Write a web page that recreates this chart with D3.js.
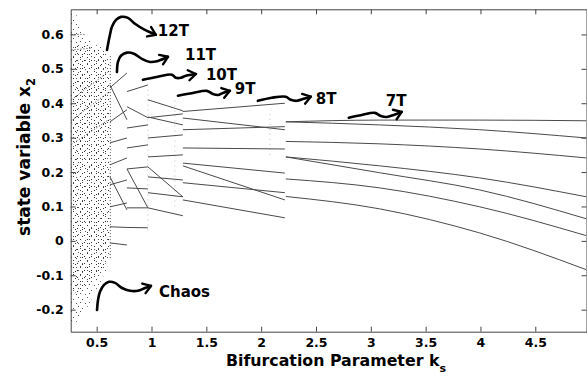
<!DOCTYPE html>
<html>
<head>
<meta charset="utf-8">
<script src="https://cdn.jsdelivr.net/npm/d3@7"></script>
<style>
body { margin: 0; background: #fff; }
text { font-family: "DejaVu Sans", sans-serif; font-weight: bold; fill: #000; }
</style>
</head>
<body>
<div id="chart"></div>
<script>
// axis ticks
var xTicks = [0.5, 1, 1.5, 2, 2.5, 3, 3.5, 4, 4.5];
var yTicks = [-0.2, -0.1, 0, 0.1, 0.2, 0.3, 0.4, 0.5, 0.6];

// periodic windows: k at segment ends, and x2 values of each branch
var k12 = [0.621, 0.776];
var b12 = [[0.445, 0.488], [0.453, 0.352], [0.346, 0.381], [0.285, 0.299], [0.221, 0.241],
           [0.186, 0.090], [0.163, 0.177], [0.099, 0.110], [0.041, 0.039], [-0.006, -0.012]];
var k11 = [0.776, 0.967];
var b11 = [[0.434, 0.453], [0.390, 0.358], [0.328, 0.337], [0.270, 0.279], [0.209, 0.215],
           [0.209, 0.096], [0.154, 0.151], [0.096, 0.096], [0.039, 0.038]];
var k10 = [0.967, 1.286];
var b10 = [[0.410, 0.378], [0.360, 0.337], [0.358, 0.369], [0.299, 0.308], [0.244, 0.250],
           [0.215, 0.128], [0.186, 0.177], [0.140, 0.128], [0.096, 0.073]];
var k9 = [1.286, 2.216];
var b9 = [[0.376, 0.400], [0.357, 0.323], [0.323, 0.332], [0.270, 0.267],
          [0.226, 0.197], [0.218, 0.119], [0.169, 0.140], [0.119, 0.067]];
var k7 = [2.225, 3.081, 3.993, 4.967];
var b7 = [[0.346, 0.351, 0.351, 0.349], [0.346, 0.337, 0.323, 0.299], [0.289, 0.282, 0.267, 0.241],
          [0.244, 0.218, 0.183, 0.128], [0.244, 0.198, 0.148, 0.064], [0.180, 0.154, 0.099, 0.015],
          [0.129, 0.093, 0.023, -0.084]];

// chaotic band envelope
var chaosK      = [0.263, 0.30, 0.35, 0.42, 0.49, 0.55, 0.60, 0.615];
var chaosTop    = [0.66, 0.665, 0.615, 0.59, 0.57, 0.56, 0.54, 0.52];
var chaosBottom = [-0.235, -0.237, -0.225, -0.19, -0.145, -0.11, -0.07, -0.05];
var denseTop    = [0.57, 0.57, 0.57, 0.565, 0.555, 0.55, 0.53, 0.51];
var denseBottom = [-0.14, -0.15, -0.15, -0.13, -0.10, -0.08, -0.05, -0.03];
var chaosStreaks = [[0.27, 0.41, 0.60, 0.49], [0.27, 0.35, 0.60, 0.43], [0.27, 0.555, 0.45, 0.56],
                    [0.27, 0.60, 0.40, 0.60], [0.27, 0.28, 0.60, 0.35]];

// transient dots at window edges
var transientK  = [0.625, 0.967, 1.213, 2.08];
var transientLo = [-0.05, 0.03, 0.10, 0.25];
var transientHi = [0.54, 0.45, 0.42, 0.38];

// annotations
var labels = ['12T', '11T', '10T', '9T', '8T', '7T', 'Chaos'];
var labelK = [1.058, 1.305, 1.496, 1.760, 2.498, 3.136, 1.068];
var labelX = [0.610, 0.541, 0.483, 0.442, 0.413, 0.407, -0.148];
var arrows = [
  [[0.594, 0.555], [0.621, 0.599], [0.639, 0.622], [0.676, 0.642], [0.721, 0.651], [0.785, 0.648], [0.849, 0.631], [0.940, 0.613], [1.040, 0.599]],
  [[0.685, 0.491], [0.694, 0.520], [0.721, 0.538], [0.776, 0.547], [0.840, 0.544], [0.913, 0.529], [0.986, 0.520], [1.059, 0.523], [1.150, 0.535]],
  [[0.922, 0.468], [1.059, 0.477], [1.186, 0.483], [1.222, 0.474], [1.268, 0.474], [1.314, 0.480], [1.405, 0.485]],
  [[1.241, 0.422], [1.378, 0.430], [1.505, 0.436], [1.560, 0.427], [1.606, 0.424], [1.651, 0.430], [1.715, 0.436]],
  [[1.970, 0.407], [2.097, 0.416], [2.225, 0.419], [2.270, 0.410], [2.325, 0.407], [2.389, 0.413], [2.452, 0.419]],
  [[2.799, 0.358], [2.918, 0.366], [3.036, 0.372], [3.091, 0.363], [3.145, 0.360], [3.209, 0.366], [3.282, 0.375]],
  [[0.503, -0.201], [0.512, -0.172], [0.530, -0.148], [0.567, -0.128], [0.612, -0.119], [0.667, -0.122], [0.731, -0.137], [0.804, -0.145], [0.876, -0.145], [0.940, -0.137], [0.995, -0.131]]
];

var width = 587, height = 376;
var margin = {top: 9.3, right: 0.5, bottom: 44.3, left: 70.7};

var svg = d3.select('#chart').append('svg')
  .attr('width', width)
  .attr('height', height);

var x = d3.scaleLinear().domain([0.263, 4.967]).range([margin.left, width - margin.right]);
var y = d3.scaleLinear().domain([-0.264, 0.673]).range([height - margin.bottom, margin.top]);

svg.append('clipPath').attr('id', 'plot')
  .append('rect')
  .attr('x', margin.left).attr('y', margin.top)
  .attr('width', x.range()[1] - margin.left)
  .attr('height', y.range()[0] - margin.top);

// dot textures for the chaotic band
var defs = svg.append('defs');
function dotPattern(id, size, dots, colour) {
  var p = defs.append('pattern').attr('id', id)
    .attr('patternUnits', 'userSpaceOnUse')
    .attr('width', size).attr('height', size);
  dots.forEach(function (d) {
    p.append('rect').attr('x', d[0]).attr('y', d[1]).attr('width', 1).attr('height', 1).attr('fill', colour);
  });
}
dotPattern('dotsA', 9, [[1, 2], [6, 0], [4, 6], [8, 5]], '#555');
dotPattern('dotsB', 7, [[3, 1], [0, 4], [5, 5]], '#333');

var g = svg.append('g').attr('clip-path', 'url(#plot)');

var outer = chaosK.map(function (k, i) { return [k, chaosTop[i], chaosBottom[i]]; });
var inner = chaosK.map(function (k, i) { return [k, denseTop[i], denseBottom[i]]; });
var area = d3.area()
  .x(function (d) { return x(d[0]); })
  .y0(function (d) { return y(d[2]); })
  .y1(function (d) { return y(d[1]); })
  .curve(d3.curveMonotoneX);
g.append('path').attr('d', area(outer)).attr('fill', 'url(#dotsA)');
g.append('path').attr('d', area(inner)).attr('fill', 'url(#dotsB)');

g.selectAll('.streak').data(chaosStreaks).enter().append('line')
  .attr('class', 'streak')
  .attr('x1', function (d) { return x(d[0]); })
  .attr('y1', function (d) { return y(d[1]); })
  .attr('x2', function (d) { return x(d[2]); })
  .attr('y2', function (d) { return y(d[3]); })
  .attr('stroke', '#333')
  .attr('stroke-width', 1)
  .attr('stroke-dasharray', '1,2');

g.selectAll('.transient').data(transientK).enter().append('line')
  .attr('class', 'transient')
  .attr('x1', function (d) { return x(d); })
  .attr('x2', function (d) { return x(d); })
  .attr('y1', function (d, i) { return y(transientLo[i]); })
  .attr('y2', function (d, i) { return y(transientHi[i]); })
  .attr('stroke', function (d, i) { return i == 0 ? '#666' : '#bbb'; })
  .attr('stroke-width', 1)
  .attr('stroke-dasharray', function (d, i) { return i == 0 ? '1,2' : '1,4'; });

// periodic branches
var line = d3.line()
  .x(function (d) { return x(d[0]); })
  .y(function (d) { return y(d[1]); })
  .curve(d3.curveMonotoneX);
var windows = [[k12, b12], [k11, b11], [k10, b10], [k9, b9], [k7, b7]];
windows.forEach(function (w) {
  var ks = w[0];
  w[1].forEach(function (b) {
    var pts = b.map(function (v, i) { return [ks[i], v]; });
    g.append('path')
      .attr('d', line(pts))
      .attr('fill', 'none')
      .attr('stroke', '#4a4a4a')
      .attr('stroke-width', 1);
  });
});

// axes, ticks pointing inward on all four sides
var axisColor = '#444';
function styleAxis(sel) {
  sel.selectAll('path, line').attr('stroke', axisColor);
  sel.selectAll('text').attr('font-size', '12.5px').attr('font-family', '"DejaVu Sans", sans-serif').attr('font-weight', 'bold').attr('fill', '#000');
}
svg.append('g')
  .attr('transform', 'translate(0,' + y.range()[0] + ')')
  .call(d3.axisBottom(x).tickValues(xTicks).tickSizeInner(-5).tickSizeOuter(0).tickPadding(6).tickFormat(function (d) { return String(d); }))
  .call(styleAxis);
svg.append('g')
  .attr('transform', 'translate(0,' + margin.top + ')')
  .call(d3.axisTop(x).tickValues(xTicks).tickSizeInner(-5).tickSizeOuter(0).tickFormat(''))
  .call(styleAxis);
svg.append('g')
  .attr('transform', 'translate(' + margin.left + ',0)')
  .call(d3.axisLeft(y).tickValues(yTicks).tickSizeInner(-5).tickSizeOuter(0).tickPadding(7).tickFormat(function (d) { return String(d); }))
  .call(styleAxis);
svg.append('g')
  .attr('transform', 'translate(' + x.range()[1] + ',0)')
  .call(d3.axisRight(y).tickValues(yTicks).tickSizeInner(-5).tickSizeOuter(0).tickFormat(''))
  .call(styleAxis);

// axis titles
var xt = svg.append('text')
  .attr('x', 336).attr('y', 366)
  .attr('text-anchor', 'middle')
  .attr('font-size', '15.8px')
  .text('Bifurcation Parameter k');
xt.append('tspan').attr('dy', 6).attr('font-size', '11px').text('s');

var yt = svg.append('text')
  .attr('transform', 'translate(30,157) rotate(-90)')
  .attr('text-anchor', 'middle')
  .attr('font-size', '17px')
  .text('state variable x');
yt.append('tspan').attr('dy', 5).attr('font-size', '11.5px').text('2');

// annotation arrows
var arrowLine = d3.line()
  .x(function (d) { return x(d[0]); })
  .y(function (d) { return y(d[1]); })
  .curve(d3.curveCatmullRom);
arrows.forEach(function (a) {
  svg.append('path')
    .attr('d', arrowLine(a))
    .attr('fill', 'none')
    .attr('stroke', '#000')
    .attr('stroke-width', 2.6)
    .attr('stroke-linecap', 'round');
  var p1 = a[a.length - 2], p2 = a[a.length - 1];
  var ex = x(p2[0]), ey = y(p2[1]);
  var ang = Math.atan2(ey - y(p1[1]), ex - x(p1[0]));
  var len = 9;
  var head = [[ex - len * Math.cos(ang - 0.6), ey - len * Math.sin(ang - 0.6)], [ex, ey],
              [ex - len * Math.cos(ang + 0.6), ey - len * Math.sin(ang + 0.6)]];
  svg.append('path')
    .attr('d', d3.line()(head))
    .attr('fill', 'none')
    .attr('stroke', '#000')
    .attr('stroke-width', 2.4)
    .attr('stroke-linejoin', 'round')
    .attr('stroke-linecap', 'round');
});

svg.selectAll('.ann').data(labels).enter().append('text')
  .attr('class', 'ann')
  .attr('x', function (d, i) { return x(labelK[i]); })
  .attr('y', function (d, i) { return y(labelX[i]); })
  .attr('dy', '0.36em')
  .attr('font-size', '15px')
  .text(function (d) { return d; });
</script>
</body>
</html>
